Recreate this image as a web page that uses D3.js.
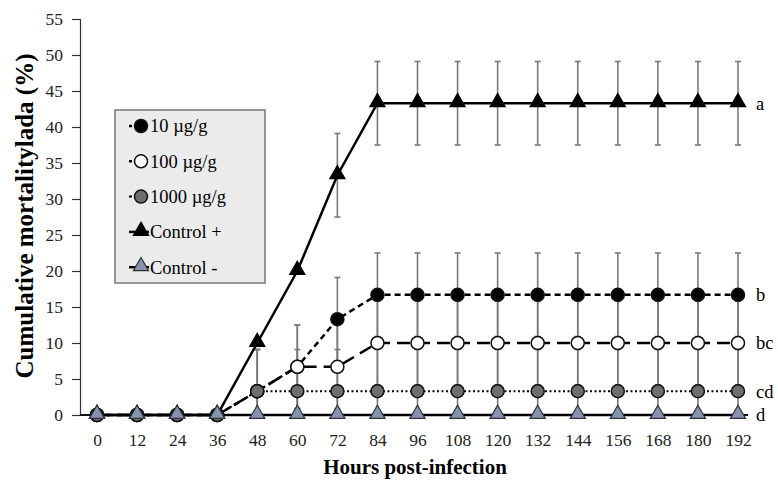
<!doctype html>
<html>
<head>
  <meta charset="utf8"/>
  <style>
    body { margin: 0; background: #fff; }
    text { font-family: 'Liberation Serif', 'Times New Roman', serif; }
  </style>
</head>
<body>
  <svg width='778' height='481'></svg>
  <script src="https://d3js.org/d3.v7.min.js"></script>
  <script>

    // hours post-infection
    var hours = [0, 12, 24, 36, 48, 60, 72, 84, 96, 108, 120, 132, 144, 156, 168, 180, 192];

    // cumulative mortality (%)
    var dose10   = [0, 0, 0, 0, 3.3, 6.7, 13.3, 16.7, 16.7, 16.7, 16.7, 16.7, 16.7, 16.7, 16.7, 16.7, 16.7];
    var dose100  = [0, 0, 0, 0, 3.3, 6.7, 6.7, 10, 10, 10, 10, 10, 10, 10, 10, 10, 10];
    var dose1000 = [0, 0, 0, 0, 3.3, 3.3, 3.3, 3.3, 3.3, 3.3, 3.3, 3.3, 3.3, 3.3, 3.3, 3.3, 3.3];
    var ctrlPos  = [0, 0, 0, 0, 10, 20, 33.3, 43.3, 43.3, 43.3, 43.3, 43.3, 43.3, 43.3, 43.3, 43.3, 43.3];
    var ctrlNeg  = [0, 0, 0, 0, 0, 0, 0, 0, 0, 0, 0, 0, 0, 0, 0, 0, 0];

    // standard errors
    var err10   = [0, 0, 0, 0, 5.8, 5.8, 5.8, 5.8, 5.8, 5.8, 5.8, 5.8, 5.8, 5.8, 5.8, 5.8, 5.8];
    var err100  = [0, 0, 0, 0, 5.8, 5.8, 5.8, 5.8, 5.8, 5.8, 5.8, 5.8, 5.8, 5.8, 5.8, 5.8, 5.8];
    var err1000 = [0, 0, 0, 0, 5.8, 5.8, 5.8, 5.8, 5.8, 5.8, 5.8, 5.8, 5.8, 5.8, 5.8, 5.8, 5.8];
    var errPos  = [0, 0, 0, 0, 0, 0, 5.8, 5.8, 5.8, 5.8, 5.8, 5.8, 5.8, 5.8, 5.8, 5.8, 5.8];
    var errNeg  = [0, 0, 0, 0, 0, 0, 0, 0, 0, 0, 0, 0, 0, 0, 0, 0, 0];

    var seriesNames = ['10 \u00b5g/g', '100 \u00b5g/g', '1000 \u00b5g/g', 'Control +', 'Control -'];
    var letters = ['b', 'bc', 'cd', 'a', 'd'];
    var yTicks = [0, 5, 10, 15, 20, 25, 30, 35, 40, 45, 50, 55];

    var series = [
      {name: seriesNames[0], values: dose10,   err: err10,   letter: letters[0],
       shape: 'circle', fill: '#000', dash: '6,4', width: 2.5},
      {name: seriesNames[1], values: dose100,  err: err100,  letter: letters[1],
       shape: 'circle', fill: '#fff', dash: '13,7', width: 2.5},
      {name: seriesNames[2], values: dose1000, err: err1000, letter: letters[2],
       shape: 'circle', fill: '#6e6e6e', dash: '2,2.5', width: 2},
      {name: seriesNames[3], values: ctrlPos,  err: errPos,  letter: letters[3],
       shape: 'triangle', fill: '#000', dash: null, width: 2.5},
      {name: seriesNames[4], values: ctrlNeg,  err: errNeg,  letter: letters[4],
       shape: 'triangle', fill: '#8593b0', dash: null, width: 2.5}
    ];

    var svg = d3.select('svg'),
        plotL = 80, plotR = 748, plotT = 19, plotB = 415;

    var x = d3.scalePoint()
              .domain(hours)
              .range([97, 738]);
    var y = d3.scaleLinear()
              .domain([0, 55])
              .range([plotB, plotT]);

    // axes
    var gx = svg.append('g')
       .attr('transform', 'translate(0,' + plotB + ')')
       .call(d3.axisBottom(x).tickSize(0).tickPadding(19));
    gx.select('.domain').remove();
    gx.selectAll('text')
       .attr('font-size', 17.5)
       .attr('fill', '#222')
       .style('font-family', "'Liberation Serif', serif");

    var gy = svg.append('g')
       .attr('transform', 'translate(' + plotL + ',0)')
       .call(d3.axisLeft(y).tickValues(yTicks).tickSize(8).tickPadding(9));
    gy.select('.domain').attr('stroke', '#333').attr('stroke-width', 1.2);
    gy.selectAll('line').attr('stroke', '#333').attr('stroke-width', 1.2);
    gy.selectAll('text')
       .attr('font-size', 17.5)
       .attr('fill', '#222')
       .style('font-family', "'Liberation Serif', serif");

    svg.append('text')
       .attr('transform', 'translate(33,216) rotate(-90)')
       .attr('text-anchor', 'middle')
       .attr('font-size', 25)
       .attr('font-weight', 'bold')
       .text('Cumulative mortalitylada (%)');

    svg.append('text')
       .attr('x', 415)
       .attr('y', 474)
       .attr('text-anchor', 'middle')
       .attr('font-size', 21)
       .attr('font-weight', 'bold')
       .text('Hours post-infection');

    // error bars
    series.forEach(function(s) {
      var g = svg.append('g').attr('stroke', '#7a7a7a').attr('stroke-width', 1.6);
      hours.forEach(function(h, i) {
        if (!s.err[i]) { return; }
        var lo = Math.max(0, s.values[i] - s.err[i]),
            hi = s.values[i] + s.err[i];
        g.append('line')
         .attr('x1', x(h)).attr('x2', x(h))
         .attr('y1', y(lo)).attr('y2', y(hi));
        g.append('line')
         .attr('x1', x(h) - 3).attr('x2', x(h) + 3)
         .attr('y1', y(hi)).attr('y2', y(hi));
        if (lo > 0) {
          g.append('line')
           .attr('x1', x(h) - 3).attr('x2', x(h) + 3)
           .attr('y1', y(lo)).attr('y2', y(lo));
        }
      });
    });

    // x axis line (drawn over the error bars)
    svg.append('line')
       .attr('x1', plotL).attr('x2', plotR)
       .attr('y1', plotB).attr('y2', plotB)
       .attr('stroke', '#111')
       .attr('stroke-width', 2);

    var line = d3.line()
                 .x(function(d, i) { return x(hours[i]); })
                 .y(function(d) { return y(d); });

    series.forEach(function(s) {
      svg.append('path')
         .datum(s.values)
         .attr('fill', 'none')
         .attr('stroke', '#000')
         .attr('stroke-width', s.width)
         .attr('stroke-dasharray', s.dash)
         .attr('d', line);
    });

    var tri = d3.symbol().type(d3.symbolTriangle).size(100);

    function marker(g, s, cx, cy) {
      if (s.shape === 'circle') {
        g.append('circle')
         .attr('cx', cx).attr('cy', cy).attr('r', 6.5)
         .attr('fill', s.fill)
         .attr('stroke', '#111')
         .attr('stroke-width', 1.5);
      } else {
        g.append('path')
         .attr('d', tri)
         .attr('transform', 'translate(' + cx + ',' + (cy - 1) + ')')
         .attr('fill', s.fill)
         .attr('stroke', s.fill === '#000' ? '#000' : '#333')
         .attr('stroke-width', 1.2);
      }
    }

    series.forEach(function(s) {
      var g = svg.append('g');
      hours.forEach(function(h, i) { marker(g, s, x(h), y(s.values[i])); });
    });

    // significance letters
    series.forEach(function(s) {
      svg.append('text')
         .attr('x', 756)
         .attr('y', y(s.values[s.values.length - 1]))
         .attr('dy', '0.35em')
         .attr('font-size', 18.5)
         .text(s.letter);
    });

    // legend
    var lg = svg.append('g').attr('transform', 'translate(115,110)');
    lg.append('rect')
      .attr('width', 150)
      .attr('height', 173)
      .attr('fill', '#ebebeb')
      .attr('stroke', '#777')
      .attr('stroke-width', 1.5);

    series.forEach(function(s, i) {
      var cy = 16 + i * 35.3;
      lg.append('line')
        .attr('x1', 14).attr('x2', 34)
        .attr('y1', cy).attr('y2', cy)
        .attr('stroke', '#000')
        .attr('stroke-width', s.width)
        .attr('stroke-dasharray', s.dash ? '3,2' : null);
      marker(lg, s, 26, cy);
      lg.append('text')
        .attr('x', 35)
        .attr('y', cy)
        .attr('dy', '0.35em')
        .attr('font-size', 18.5)
        .text(s.name);
    });
  </script>
</body>
</html>
